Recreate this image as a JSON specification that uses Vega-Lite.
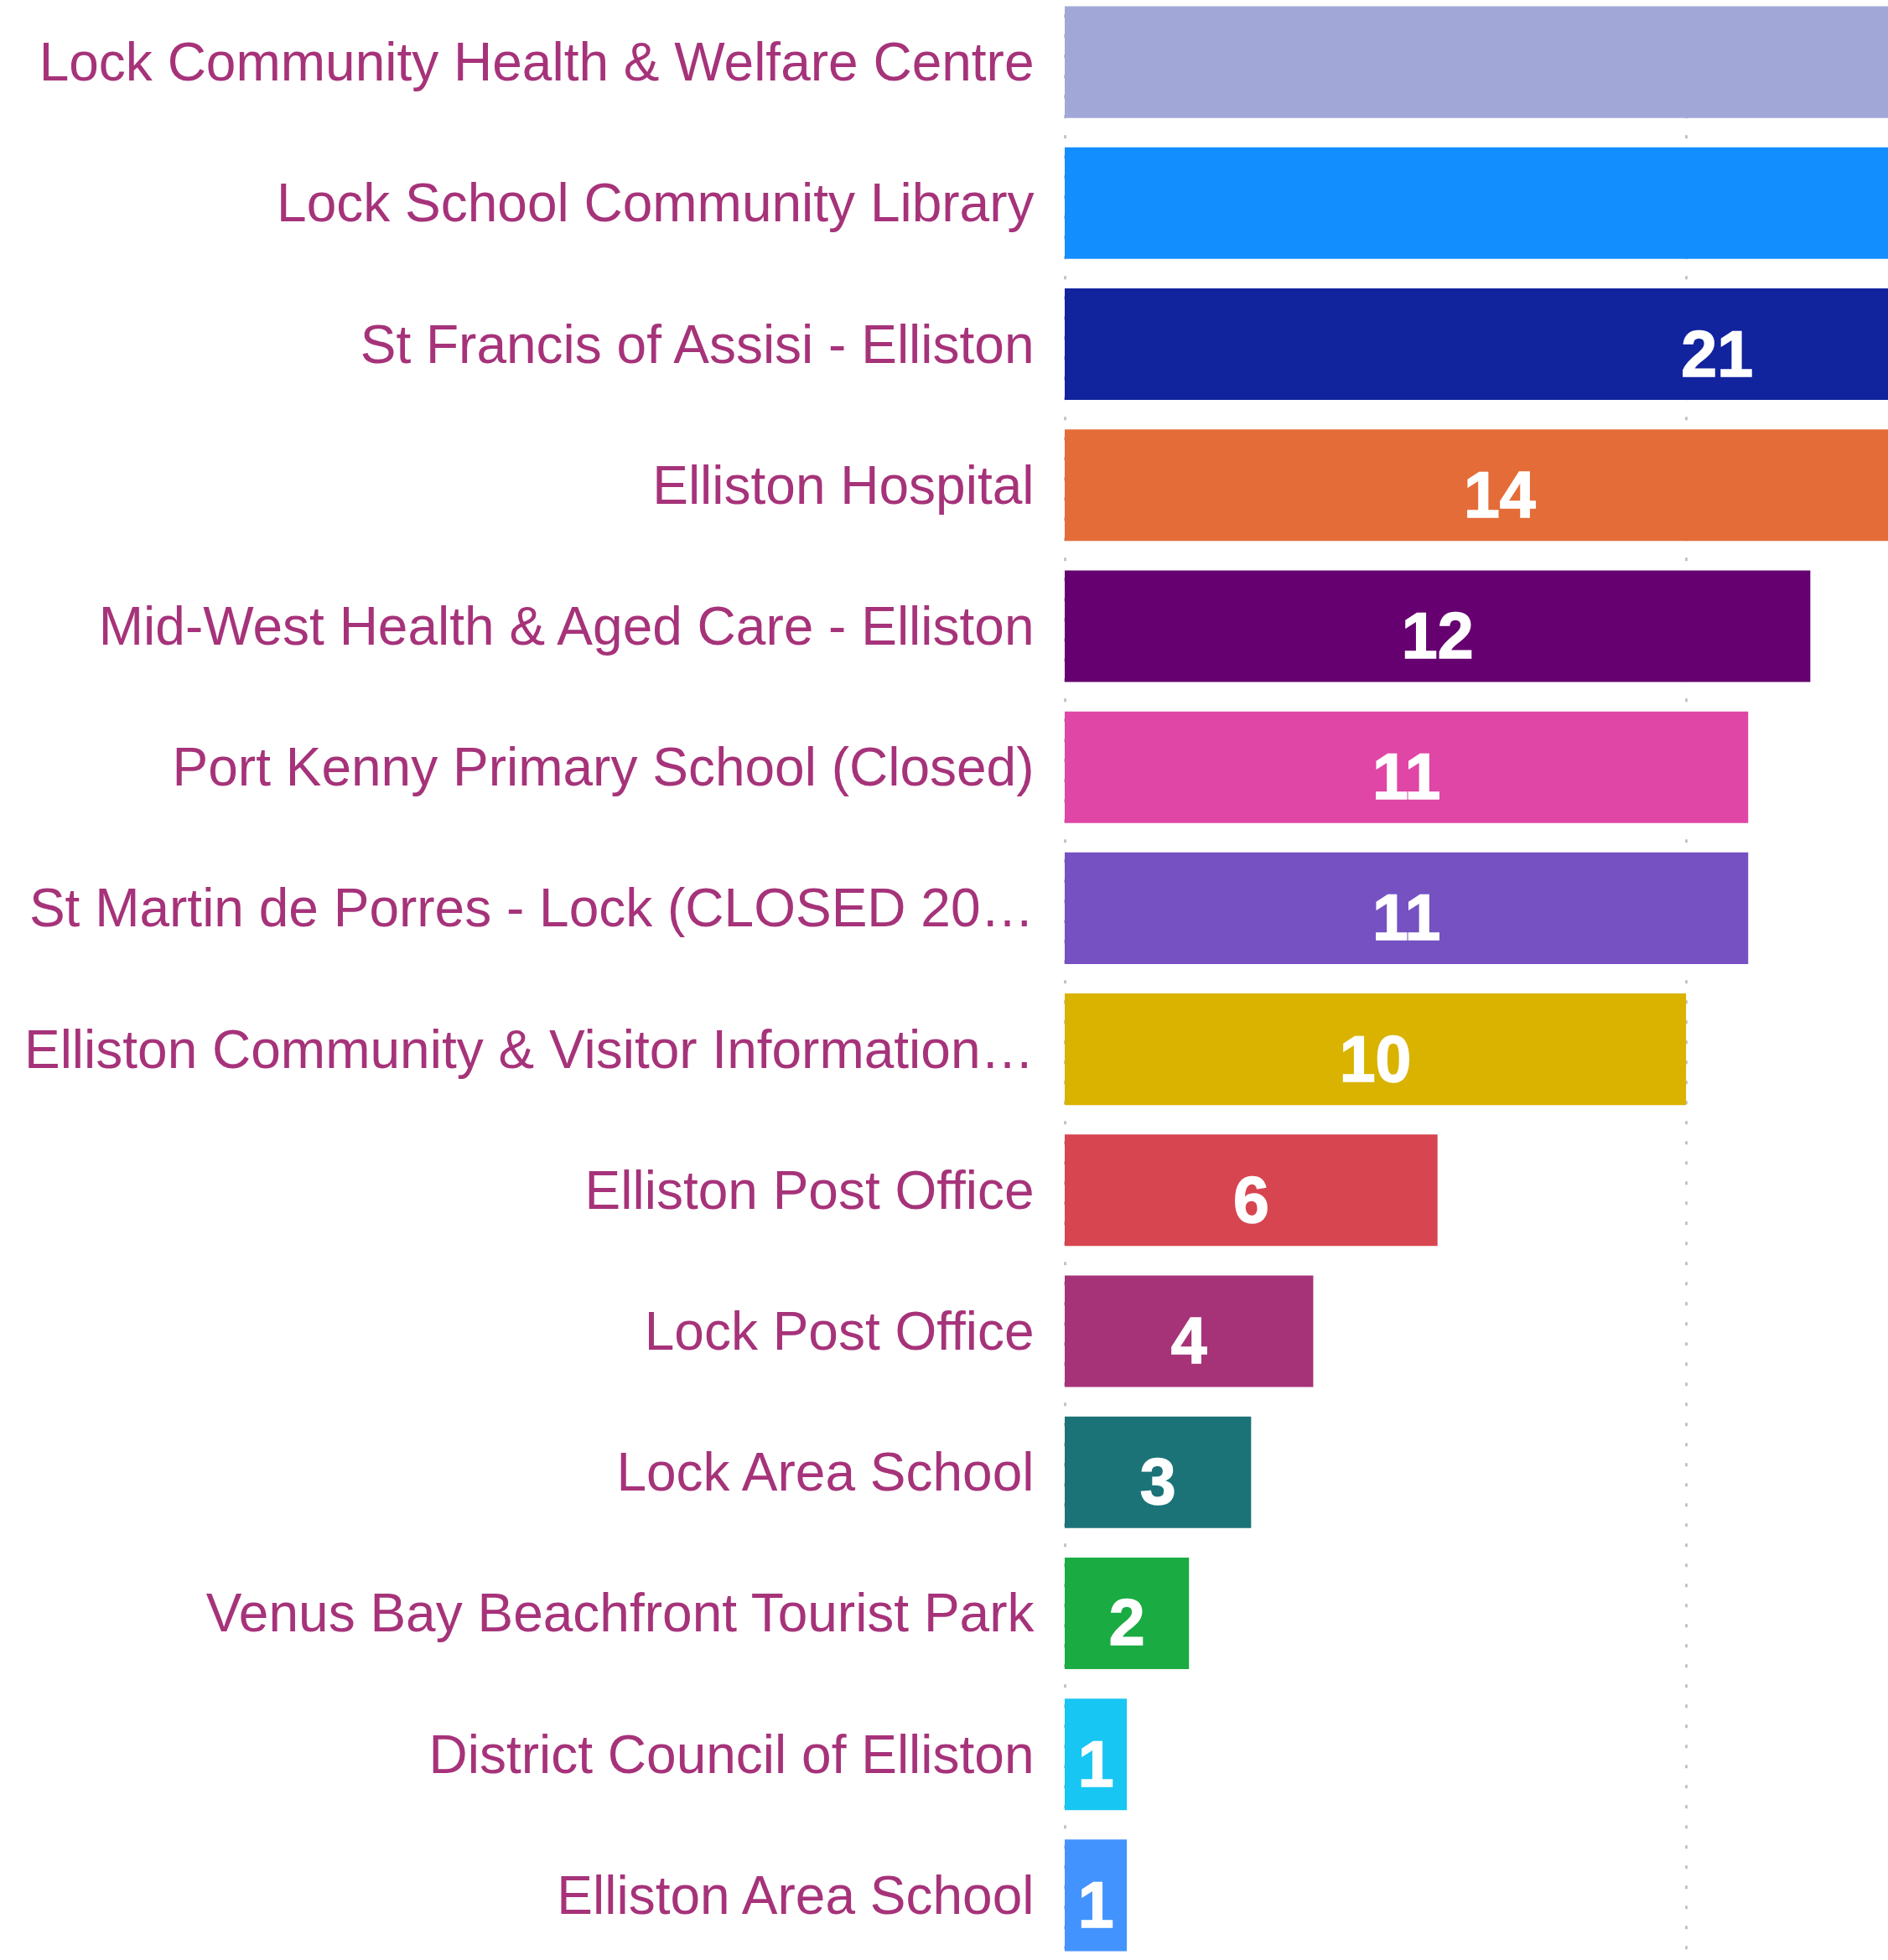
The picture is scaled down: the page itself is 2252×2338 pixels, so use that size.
{
  "$schema": "https://vega.github.io/schema/vega-lite/v6.json",
  "autosize": "none",
  "padding": {"left": 1270, "top": 0, "right": 0, "bottom": 3},
  "width": 982,
  "height": 2335,
  "background": "white",
  "config": {"view": {"stroke": null}},
  "data": {
    "values": [
      {"name": "Lock Community Health & Welfare Centre", "value": 35},
      {"name": "Lock School Community Library", "value": 29},
      {"name": "St Francis of Assisi - Elliston", "value": 21},
      {"name": "Elliston Hospital", "value": 14},
      {"name": "Mid-West Health & Aged Care - Elliston", "value": 12},
      {"name": "Port Kenny Primary School (Closed)", "value": 11},
      {"name": "St Martin de Porres - Lock (CLOSED 2016)", "value": 11},
      {"name": "Elliston Community & Visitor Information Centre", "value": 10},
      {"name": "Elliston Post Office", "value": 6},
      {"name": "Lock Post Office", "value": 4},
      {"name": "Lock Area School", "value": 3},
      {"name": "Venus Bay Beachfront Tourist Park", "value": 2},
      {"name": "District Council of Elliston", "value": 1},
      {"name": "Elliston Area School", "value": 1}
    ]
  },
  "encoding": {
    "y": {
      "field": "name",
      "type": "nominal",
      "sort": null,
      "scale": {"paddingInner": 0.209, "paddingOuter": 0.045},
      "axis": {
        "title": null,
        "domain": false,
        "ticks": false,
        "tickSize": 0,
        "labelPadding": 37,
        "labelFont": "Liberation Sans",
        "labelFontSize": 64,
        "labelColor": "#a6337a",
        "labelLimit": 1205,
        "labelBaseline": "alphabetic",
        "labelOffset": 22
      }
    }
  },
  "layer": [
    {
      "mark": {"type": "bar", "clip": true},
      "encoding": {
        "x": {
          "field": "value",
          "type": "quantitative",
          "scale": {"domain": [0, 13.25], "nice": false, "zero": true},
          "axis": {
            "title": null,
            "labels": false,
            "ticks": false,
            "domain": false,
            "grid": true,
            "values": [0, 10, 20, 30, 40],
            "gridColor": "#c4c4c4",
            "gridWidth": 3,
            "gridDash": [4, 20],
            "gridDashOffset": 13.7
          }
        },
        "color": {
          "field": "name",
          "type": "nominal",
          "legend": null,
          "scale": {
            "domain": [
              "Lock Community Health & Welfare Centre",
              "Lock School Community Library",
              "St Francis of Assisi - Elliston",
              "Elliston Hospital",
              "Mid-West Health & Aged Care - Elliston",
              "Port Kenny Primary School (Closed)",
              "St Martin de Porres - Lock (CLOSED 2016)",
              "Elliston Community & Visitor Information Centre",
              "Elliston Post Office",
              "Lock Post Office",
              "Lock Area School",
              "Venus Bay Beachfront Tourist Park",
              "District Council of Elliston",
              "Elliston Area School"
            ],
            "range": [
              "#a1a8d8", "#138eff", "#12239e", "#e46c38", "#660070", "#df46a5", "#7651c2",
              "#d9b300", "#d74550", "#a63378", "#1b7377", "#1aab42", "#17c6f3", "#4393ff"
            ]
          }
        }
      }
    },
    {
      "mark": {
        "type": "text",
        "clip": true,
        "font": "Liberation Sans",
        "fontWeight": "bold",
        "fontSize": 77,
        "color": "white",
        "stroke": "white",
        "strokeWidth": 1.5,
        "align": "center",
        "baseline": "alphabetic",
        "dy": 38
      },
      "encoding": {
        "x": {
          "field": "value",
          "type": "quantitative",
          "scale": {"domain": [0, 26.5], "nice": false, "zero": true},
          "axis": null
        },
        "text": {"field": "value", "type": "quantitative"}
      }
    }
  ],
  "resolve": {"scale": {"x": "independent"}}
}
